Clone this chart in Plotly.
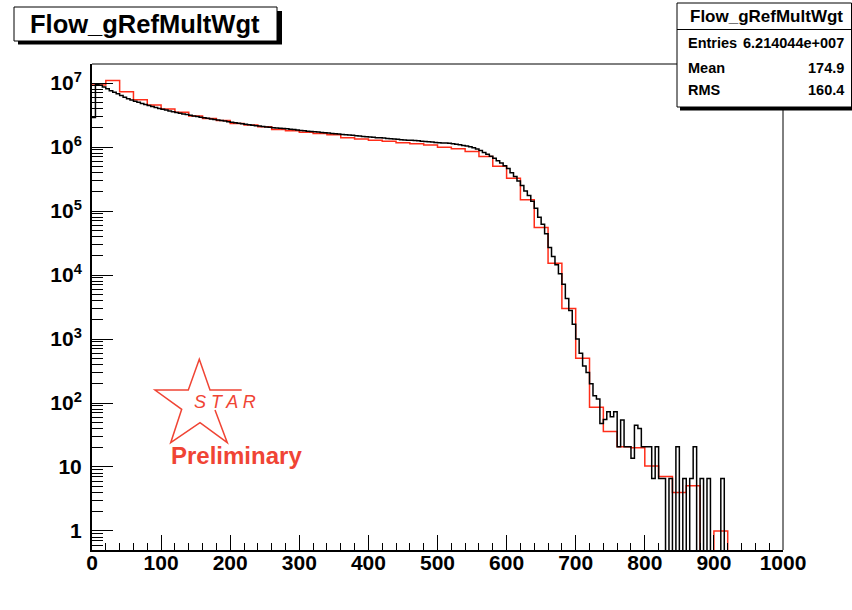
import plotly.graph_objects as go

# ---------------- data ----------------
BLACK_BIN_WIDTH = 5     # fine binning, 0..1000
RED_BIN_WIDTH = 20      # coarse binning, 0..1000

black_counts = [
    2.9e6, 9.6e6, 9.2e6, 8.7e6, 8.1e6, 7.6e6, 7.2e6, 6.8e6, 6.4e6, 6.0e6,            # 0-45
    5.7e6, 5.45e6, 5.2e6, 5.0e6, 4.8e6, 4.6e6, 4.45e6, 4.3e6, 4.15e6, 4.0e6,         # 50-95
    3.88e6, 3.77e6, 3.66e6, 3.56e6, 3.46e6, 3.37e6, 3.29e6, 3.21e6, 3.13e6, 3.06e6,  # 100-145
    2.99e6, 2.93e6, 2.87e6, 2.81e6, 2.75e6, 2.69e6, 2.64e6, 2.59e6, 2.54e6, 2.49e6,  # 150-195
    2.44e6, 2.39e6, 2.35e6, 2.31e6, 2.27e6, 2.23e6, 2.19e6, 2.15e6, 2.12e6, 2.09e6,  # 200-245
    2.06e6, 2.03e6, 2.00e6, 1.98e6, 1.96e6, 1.94e6, 1.92e6, 1.90e6, 1.87e6, 1.84e6,  # 250-295
    1.81e6, 1.79e6, 1.77e6, 1.75e6, 1.73e6, 1.71e6, 1.69e6, 1.67e6, 1.65e6, 1.63e6,  # 300-345
    1.61e6, 1.59e6, 1.57e6, 1.55e6, 1.54e6, 1.52e6, 1.50e6, 1.48e6, 1.46e6, 1.44e6,  # 350-395
    1.43e6, 1.42e6, 1.40e6, 1.39e6, 1.38e6, 1.36e6, 1.35e6, 1.33e6, 1.32e6, 1.30e6,  # 400-445
    1.29e6, 1.28e6, 1.27e6, 1.26e6, 1.25e6, 1.23e6, 1.22e6, 1.21e6, 1.20e6, 1.18e6,  # 450-495
    1.17e6, 1.16e6, 1.15e6, 1.14e6, 1.12e6, 1.10e6, 1.08e6, 1.06e6, 1.04e6, 1.01e6,  # 500-545
    9.7e5, 9.3e5, 8.8e5, 8.2e5, 7.7e5, 7.2e5, 6.7e5, 6.1e5, 5.6e5, 5.1e5,            # 550-595
    4.6e5, 3.95e5, 3.45e5, 2.95e5, 2.5e5, 2.05e5, 1.75e5, 1.42e5, 1.1e5, 8.0e4,      # 600-645
    6.2e4, 4.4e4, 2.7e4, 1.95e4, 1.45e4, 1.05e4, 7.2e3, 4.3e3, 2.8e3, 1.7e3,         # 650-695
    1.0e3, 600, 380, 300, 200, 130, 115, 48, 55, 73,                                 # 700-745
    61, 73, 20.7, 54, 20.7, 20.7, 13.7, 45, 40, 20.7,                                # 750-795
    20.7, 20.7, 6.6, 20.7, 6.6, 6.6, 0, 6.6, 0, 20.7,                                # 800-845
    0, 6.6, 0, 6.6, 20.7, 0, 6.6, 0, 6.6, 0,                                         # 850-895
    0, 0, 6.6, 0, 0, 0, 0, 0, 0, 0,                                                  # 900-945
    0, 0, 0, 0, 0, 0, 0, 0, 0, 0,                                                    # 950-995
]

red_counts = [
    9.3e6, 1.09e7, 7.3e6, 5.48e6, 4.53e6, 3.93e6, 3.48e6, 3.05e6, 2.8e6, 2.6e6,      # 0-180
    2.34e6, 2.2e6, 2.08e6, 1.87e6, 1.8e6, 1.70e6, 1.62e6, 1.56e6, 1.40e6, 1.33e6,    # 200-380
    1.27e6, 1.23e6, 1.17e6, 1.12e6, 1.07e6, 9.9e5, 9.4e5, 8.5e5, 7.1e5, 5.0e5,       # 400-580
    3.24e5, 1.5e5, 5.5e4, 1.52e4, 3.0e3, 500, 86, 36, 20.7, 20,                      # 600-780
    10.4, 7.1, 4.0, 5.1, 0, 1.0, 0, 0, 0, 0,                                         # 800-980
]

x_tick_vals = [0, 100, 200, 300, 400, 500, 600, 700, 800, 900, 1000]
x_tick_text = ["0", "100", "200", "300", "400", "500", "600", "700", "800", "900", "1000"]
y_tick_vals = [1, 10, 1e2, 1e3, 1e4, 1e5, 1e6, 1e7]
y_tick_text = ["1", "10", "10<sup>2</sup>", "10<sup>3</sup>", "10<sup>4</sup>",
               "10<sup>5</sup>", "10<sup>6</sup>", "10<sup>7</sup>"]

hist_name = "Flow_gRefMultWgt"
stat_labels = ["Entries", "Mean", "RMS"]
stat_values = ["6.214044e+007", "174.9", "160.4"]

# ---------------- geometry / style ----------------
W, H = 852, 610
L, R, T, B = 92, 783, 64, 550
FLOOR = 1e-3  # empty bins drop below the log-axis frame (as ROOT draws them)
FONT = "Liberation Sans"
RED = "rgb(255,45,25)"
LOGO_RED = "#f04434"


def pxx(x):
    return (x - L) / (R - L)


def pxy(y):
    return (B - y) / (B - T)


def step_xy(counts, width):
    edges = [i * width for i in range(len(counts) + 1)]
    ys = [c if c > 0 else FLOOR for c in counts]
    return edges, ys + [ys[-1]]


fig = go.Figure()
rx, ry = step_xy(red_counts, RED_BIN_WIDTH)
fig.add_trace(go.Scatter(x=rx, y=ry, mode="lines", line=dict(shape="hv", color=RED, width=1.5),
                         hoverinfo="skip"))
bx, by = step_xy(black_counts, BLACK_BIN_WIDTH)
fig.add_trace(go.Scatter(x=bx, y=by, mode="lines", line=dict(shape="hv", color="black", width=1.5),
                         hoverinfo="skip"))

tickfont = dict(family=FONT, size=21, color="black", weight="bold")

x_minor = [v for v in range(20, 1000, 20) if v % 100 != 0]
fig.update_xaxes(range=[0, 1000], showgrid=False, zeroline=False, showline=True,
                 linecolor="black", linewidth=2, ticks="inside", tickvals=x_tick_vals,
                 ticktext=x_tick_text, ticklen=15, tickwidth=1, tickcolor="black",
                 tickfont=tickfont, ticklabelstandoff=-7,
                 minor=dict(tickvals=x_minor, ticks="inside", ticklen=7, tickwidth=1,
                            tickcolor="black", showgrid=False))

y_minor = [k * 10 ** d for d in range(-1, 7) for k in range(2, 10)]
y_minor = [v for v in y_minor if v > 0.55]
fig.update_yaxes(type="log", range=[-0.297, 7.297], showgrid=False, zeroline=False,
                 showline=True, linecolor="black", linewidth=2, ticks="inside",
                 tickvals=y_tick_vals, ticktext=y_tick_text, ticklen=21, tickwidth=1,
                 tickcolor="black", tickfont=tickfont, ticklabelstandoff=4,
                 minor=dict(tickvals=y_minor, ticks="inside", ticklen=11, tickwidth=1,
                            tickcolor="black", showgrid=False))

shapes = []
# frame top & right
shapes.append(dict(type="line", xref="paper", yref="paper", x0=0, x1=1, y0=1, y1=1,
                   line=dict(color="black", width=1)))
shapes.append(dict(type="line", xref="paper", yref="paper", x0=1, x1=1, y0=0, y1=1,
                   line=dict(color="black", width=1)))


def rect(x0, y0, x1, y1, fill, lw, lc="black"):
    return dict(type="rect", xref="paper", yref="paper", x0=pxx(x0), x1=pxx(x1),
                y0=pxy(y1), y1=pxy(y0), fillcolor=fill, line=dict(color=lc, width=lw),
                layer="above")


# title box with shadow
shapes.append(rect(18, 11, 282, 44.5, "black", 0))
shapes.append(rect(14, 7, 277, 41, "white", 1))
# stats box with shadow
shapes.append(rect(680, 6, 856, 110.5, "black", 0))
shapes.append(rect(677, 3, 851.5, 107, "white", 1))
shapes.append(dict(type="line", xref="paper", yref="paper", x0=pxx(677), x1=pxx(851.5),
                   y0=pxy(29.5), y1=pxy(29.5), line=dict(color="black", width=1)))

# STAR logo star outline (open path)
star_pts = [(241.7, 390), (210, 390), (199.3, 359.3), (188.3, 390), (155, 390),
            (181.7, 409.3), (170.7, 442.7), (200, 422.7), (227.3, 442.7), (215, 410)]
path = "M " + " L ".join(f"{pxx(a):.5f},{pxy(b):.5f}" for a, b in star_pts)
shapes.append(dict(type="path", xref="paper", yref="paper", path=path,
                   line=dict(color=LOGO_RED, width=1.5)))

annotations = []
annotations.append(dict(text=hist_name, xref="paper", yref="paper", x=pxx(144.5), y=pxy(24),
                        xanchor="center", yanchor="middle", showarrow=False,
                        font=dict(family=FONT, size=25.5, color="black", weight="bold")))
annotations.append(dict(text=hist_name, xref="paper", yref="paper", x=pxx(766), y=pxy(16.5),
                        xanchor="center", yanchor="middle", showarrow=False,
                        font=dict(family=FONT, size=17, color="black", weight="bold")))
row_y = [43, 68, 90]
for lab, val, yy in zip(stat_labels, stat_values, row_y):
    annotations.append(dict(text=lab, xref="paper", yref="paper", x=pxx(686), y=pxy(yy),
                            xanchor="left", yanchor="middle", showarrow=False,
                            font=dict(family=FONT, size=14.5, color="black", weight="bold")))
    annotations.append(dict(text=val, xref="paper", yref="paper", x=pxx(846), y=pxy(yy),
                            xanchor="right", yanchor="middle", showarrow=False,
                            font=dict(family=FONT, size=14.5, color="black", weight="bold")))

annotations.append(dict(text="S T A R", xref="paper", yref="paper", x=pxx(225), y=pxy(401.5),
                        xanchor="center", yanchor="middle", showarrow=False,
                        font=dict(family=FONT, size=18, color=LOGO_RED, style="italic")))
annotations.append(dict(text="Preliminary", xref="paper", yref="paper", x=pxx(236.5), y=pxy(455),
                        xanchor="center", yanchor="middle", showarrow=False,
                        font=dict(family=FONT, size=24, color=LOGO_RED, weight="bold")))

fig.update_layout(width=W, height=H, autosize=False,
                  margin=dict(l=L, r=W - R, t=T, b=H - B, pad=0),
                  paper_bgcolor="white", plot_bgcolor="white", showlegend=False,
                  font=dict(family=FONT, color="black"),
                  shapes=shapes, annotations=annotations)

fig.write_html("out.html", config={"displayModeBar": False})
